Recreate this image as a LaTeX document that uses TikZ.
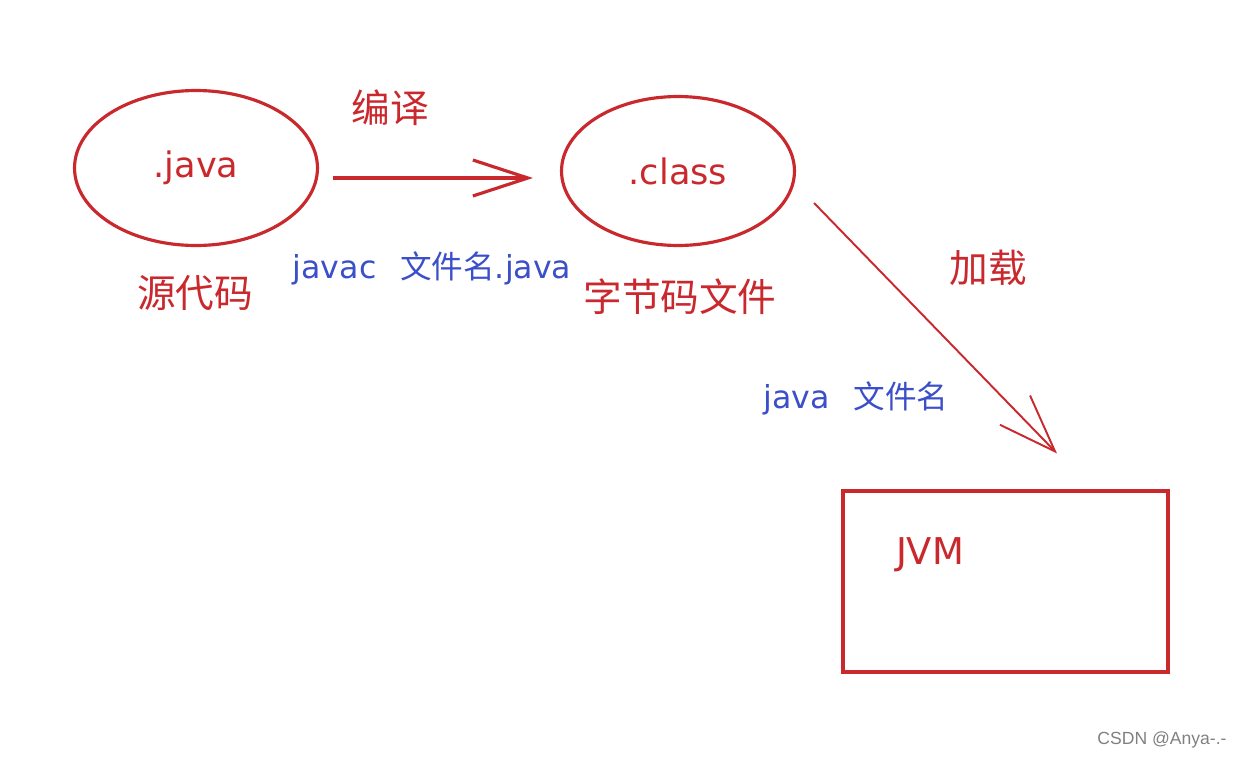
\documentclass[tikz,border=0pt]{standalone}
\usepackage{fontspec}
\setmainfont{Noto Sans CJK SC}
\newfontfamily\latinfont{DejaVu Sans}
\newfontfamily\markfont{Liberation Sans}
\usepackage{tikz}
\usetikzlibrary{shapes.geometric,arrows.meta,calc}
\definecolor{sketchred}{RGB}{201,40,45}
\definecolor{sketchblue}{RGB}{59,79,200}

\begin{document}
\begin{tikzpicture}[
    x=0.02cm, y=-0.02cm,
    blob/.style={ellipse, draw=sketchred, line width=1.8pt, inner sep=0pt,
                 text=sketchred, font=\latinfont\fontsize{20}{20}\selectfont},
    frame/.style={rectangle, draw=sketchred, line width=1.8pt, inner sep=0pt,
                  minimum width=6.5cm, minimum height=3.62cm},
    redtext/.style={text=sketchred, font=\fontsize{22}{22}\selectfont, inner sep=0pt},
    bluetext/.style={text=sketchblue, font=\fontsize{18}{18}\selectfont, inner sep=0pt},
    arrow/.style={draw=sketchred, line width=1.8pt,
                  -{Straight Barb[length=1.1cm, width=0.72cm]}},
    thinarrow/.style={draw=sketchred, line width=1.1pt,
                      -{Straight Barb[length=1.15cm, width=0.84cm]}}
]
\useasboundingbox (0,0) rectangle (1242,758);

\node[blob, minimum width=4.86cm, minimum height=3.1cm] (src) at (196,168) {.java};
\node[blob, minimum width=4.66cm, minimum height=2.98cm] (cls) at (678,171) {.class};
\node[frame] (jvm) at (1005.5,581.5) {};
\node[redtext, font=\latinfont\fontsize{21}{21}\selectfont] (jvmlbl) at (930,555) {JVM};

\node[redtext] (srclbl) at (195,293) {源代码};
\node[redtext] (clslbl) at (680,297) {字节码文件};
\node[redtext] (compile) at (390,108) {编译};
\node[redtext] (load) at (988,268) {加载};
\node[bluetext] (javac) at (432,268) {{\latinfont javac}\hspace{0.75em}文件名{\latinfont .java}};
\node[bluetext] (runcmd) at (856,398) {{\latinfont java}\hspace{0.75em}文件名};

\node[text=gray, font=\markfont\fontsize{10}{10}\selectfont, inner sep=0pt] (mark) at (1162,740) {CSDN @Anya-.-};

\draw[arrow] ($(src.east)+(14,10)$) -- ($(cls.west)+(-27,7)$);
\draw[thinarrow] ($(cls.east)+(18,32)$) -- ($(jvm.north)+(51.5,-36)$);
\end{tikzpicture}
\end{document}
